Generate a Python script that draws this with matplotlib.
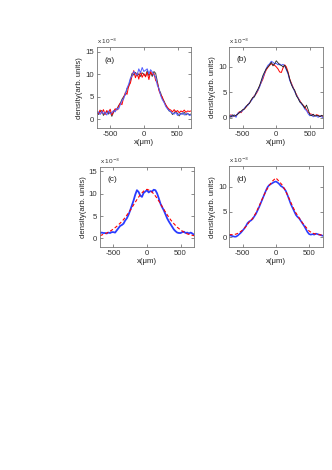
import matplotlib
matplotlib.use("Agg")
import matplotlib.pyplot as plt
import numpy as np

plt.rcParams['font.family'] = ['Liberation Sans', 'DejaVu Sans']
plt.rcParams['axes.unicode_minus'] = False

# x grid (um) for the measured profiles
x_fine = np.arange(-700, 701, 25)
x_fit = np.arange(-700, 701, 50)

# panel (a): three noisy profiles, units of 1e-3
red_a = [1.8,1.2,2.0,1.3,2.1,1.0,1.9,1.4,2.2,0.9,1.7,2.3,2.0,2.8,3.6,3.2,4.8,5.9,5.5,7.4,8.0,9.6,10.8,9.2,10.3,8.9,10.6,9.3,10.1,9.4,10.4,8.8,10.6,9.9,10.2,8.6,8.1,6.3,5.4,4.9,3.8,3.2,2.6,2.2,2.0,1.6,2.1,1.5,1.9,1.4,1.8,1.6,2.0,1.5,1.8,1.7,1.8]
blue_a = [1.3,1.6,1.0,1.7,1.2,1.5,0.9,1.8,1.2,1.4,1.9,1.6,2.4,2.2,3.2,4.1,4.5,5.6,6.9,7.8,9.1,9.6,10.6,10.1,9.8,11.2,10.3,11.5,10.6,10.9,11.2,10.1,11.0,10.5,9.8,9.4,7.5,6.8,5.2,4.3,3.7,2.8,2.3,1.9,1.6,1.3,1.1,1.5,0.8,1.2,1.0,1.4,0.9,1.1,1.3,0.8,0.9]
black_a = [1.5,1.0,1.6,1.9,0.8,1.4,1.7,1.1,1.6,0.6,1.5,2.0,2.2,3.0,3.5,4.4,5.0,5.4,6.8,7.2,8.8,10.2,9.8,10.4,9.6,10.1,9.5,10.3,10.0,9.6,10.8,9.7,10.3,9.5,10.6,10.2,8.4,6.6,5.8,4.6,4.0,3.1,2.4,1.8,1.7,1.0,1.4,1.8,1.2,0.7,1.3,1.1,1.5,0.9,1.2,1.0,1.1]

# panel (b)
red_b = [0.3,0.6,0.2,0.5,0.4,0.8,1.2,1.0,1.5,1.8,2.1,2.6,2.9,3.4,3.9,4.4,4.7,5.3,6.2,6.9,7.6,8.6,9.4,9.9,10.3,10.6,10.5,10.3,10.0,9.6,9.0,8.9,9.8,10.4,10.0,9.0,7.6,6.8,6.0,5.2,4.6,3.9,3.4,2.8,2.5,2.1,1.6,1.1,0.8,0.7,0.6,0.4,0.6,0.5,0.3,0.4,0.3]
blue_b = [0.0,0.5,0.2,0.6,0.1,0.9,1.0,1.2,1.4,1.9,2.3,2.4,3.0,3.3,3.8,4.3,4.9,5.4,6.0,7.0,7.9,8.8,9.7,10.3,10.6,11.1,10.9,10.6,10.7,10.4,10.6,10.3,10.5,10.2,9.4,8.6,7.3,6.6,5.9,5.1,4.4,3.9,3.2,2.7,2.3,1.7,1.4,0.8,0.4,0.6,0.2,0.5,0.3,0.1,0.4,0.2,0.0]
black_b = [0.4,0.1,0.6,0.3,0.5,0.7,1.0,1.3,1.6,1.7,2.2,2.6,2.8,3.5,4.0,4.1,5.0,5.6,6.3,7.3,8.3,9.0,9.6,10.0,10.4,10.9,10.2,10.6,11.2,10.8,10.4,10.3,10.0,10.3,9.6,8.8,7.6,6.5,5.8,5.4,4.3,3.8,3.1,2.9,2.4,1.9,2.5,1.6,0.6,0.4,0.7,0.3,0.5,0.4,0.2,0.5,0.3]

# panel (c): averaged profile + fit
blue_c = [1.2,1.3,1.2,1.2,1.1,1.3,1.2,1.4,1.4,1.3,1.8,2.3,2.8,3.0,3.3,4.0,4.5,5.3,6.3,7.4,8.5,9.8,10.8,10.4,9.6,9.3,10.2,10.5,10.8,10.3,10.6,10.5,10.9,10.8,10.1,9.0,7.8,7.0,6.3,5.4,4.5,3.8,3.2,2.6,2.0,1.6,1.3,1.2,1.2,1.4,1.5,1.2,1.3,1.1,1.3,1.1,0.8]
red_c = [0.6,0.9,1.2,1.6,2.1,2.7,3.4,4.2,5.2,6.3,7.5,8.7,9.8,10.6,11.0,10.7,10.0,9.0,7.8,6.5,5.3,4.2,3.3,2.5,1.9,1.4,1.0,0.8,0.6]

# panel (d)
blue_d = [0.4,0.3,0.2,0.1,0.1,0.3,0.6,0.9,1.3,1.7,2.2,2.8,3.1,3.3,3.6,4.1,4.6,5.3,6.0,6.8,7.6,8.4,9.2,9.9,10.3,10.5,10.7,10.9,11.0,10.8,10.5,10.1,9.9,9.6,9.1,8.3,7.4,6.5,5.8,5.1,4.4,4.0,3.7,3.2,2.7,2.2,1.6,1.0,0.6,0.5,0.6,0.5,0.7,0.6,0.5,0.4,0.3]
red_d = [0.5,0.5,0.6,0.9,1.4,2.1,3.0,3.7,4.8,6.2,7.7,9.1,10.2,11.1,11.7,11.0,10.2,9.0,7.6,6.1,4.8,3.8,2.8,2.0,1.2,0.8,0.6,0.5,0.4]

W, H = 332, 470
fig = plt.figure(figsize=(W / 100, H / 100), dpi=100)

def make_ax(l, t, r, b):
    return fig.add_axes([l / W, 1 - b / H, (r - l) / W, (b - t) / H])

axa = make_ax(96.7, 47.3, 191, 128)
axb = make_ax(229.3, 46.5, 323.3, 128)
axc = make_ax(100, 167, 194, 247.3)
axd = make_ax(229.3, 166.3, 322.5, 247.3)

fs = 5.6
blue = '#2a3cff'
for ax, lab, ymax, yt in [(axa, '(a)', 16, [0, 5, 10, 15]),
                          (axb, '(b)', 14, [0, 5, 10]),
                          (axc, '(c)', 16, [0, 5, 10, 15]),
                          (axd, '(d)', 14, [0, 5, 10])]:
    ax.set_xlim(-700, 700)
    ax.set_ylim(-2, ymax)
    ax.set_xticks([-500, 0, 500])
    ax.set_yticks(yt)
    ax.tick_params(direction='in', length=2, width=0.4, labelsize=fs,
                   pad=2, colors='#333333', top=True, right=True)
    for s in ax.spines.values():
        s.set_color('#777777')
        s.set_linewidth(0.6)
    ax.set_xlabel(u'x(\u03bcm)', fontsize=fs, labelpad=1, color='#222222')
    ax.set_ylabel('density(arb. units)', fontsize=fs, labelpad=1.5, color='#222222')
    ax.text(0.0, 1.01, r'x 10$^{-3}$', transform=ax.transAxes, fontsize=4.6,
            va='bottom', ha='left', color='#333333')
    ax.text(0.08, 0.84, lab, transform=ax.transAxes, fontsize=fs + 0.4,
            va='center', ha='left', color='#222222')

axa.plot(x_fine, black_a, color='#444444', lw=0.7)
axa.plot(x_fine, red_a, color='red', lw=0.7)
axa.plot(x_fine, blue_a, color='#4f5cff', lw=0.7)

axb.plot(x_fine, red_b, color='red', lw=0.7)
axb.plot(x_fine, blue_b, color='#4f5cff', lw=0.7)
axb.plot(x_fine, black_b, color='#222222', lw=0.6)

axc.plot(x_fine, blue_c, color=blue, lw=1.3)
axc.plot(x_fit, red_c, color='red', lw=0.8, ls=(0, (3, 2)))

axd.plot(x_fine, blue_d, color=blue, lw=1.2)
axd.plot(x_fit, red_d, color='red', lw=0.8, ls=(0, (3, 2)))

fig.savefig('out.png', dpi=100)
